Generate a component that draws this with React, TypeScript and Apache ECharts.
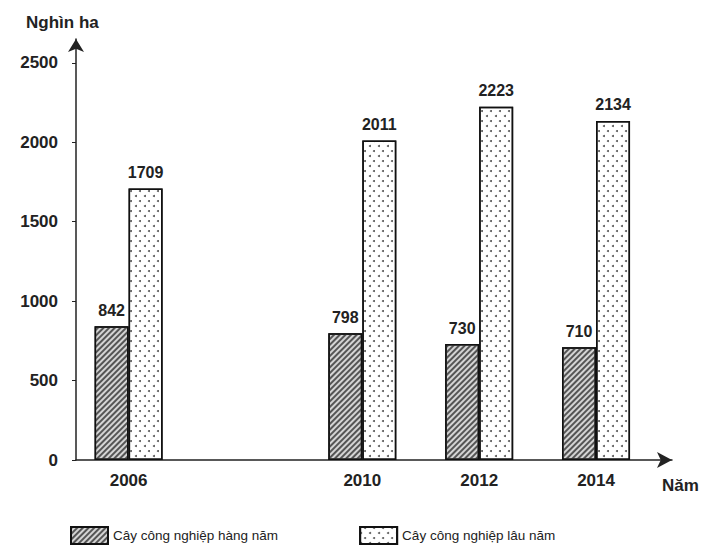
import React, { useEffect, useRef } from "react";
import * as echarts from "echarts";

const years = [2006, 2010, 2012, 2014];
const annualCrops = [842, 798, 730, 710];
const perennialCrops = [1709, 2011, 2223, 2134];
const yTicks = [0, 500, 1000, 1500, 2000, 2500];
const seriesNames = ["Cây công nghiệp hàng năm", "Cây công nghiệp lâu năm"];

const FONT = "'Liberation Sans', Arial, sans-serif";

export default function App() {
  const ref = useRef<HTMLDivElement>(null);
  useEffect(() => {
    if (!ref.current) return;
    const chart = echarts.init(ref.current, null, { renderer: "svg" });
    const labelStyle = {
      show: true,
      position: "top",
      distance: 8,
      fontSize: 16,
      fontWeight: "bold",
      fontFamily: FONT,
      color: "#222",
    };
    chart.setOption({
      animation: false,
      backgroundColor: "#fff",
      textStyle: { fontFamily: FONT },
      title: {
        text: "Nghìn ha",
        left: 21,
        top: 9,
        textStyle: { fontSize: 17, fontWeight: "bold", color: "#222", fontFamily: FONT },
      },
      grid: { left: 76, right: 33, top: 39, bottom: 94 },
      legend: {
        left: 65,
        top: 521,
        icon: "rect",
        itemWidth: 37,
        itemHeight: 17,
        itemGap: 81,
        textStyle: { fontSize: 13.5, color: "#222", fontFamily: FONT },
        data: seriesNames,
      },
      xAxis: {
        type: "value",
        min: 2005.1,
        max: 2015.3,
        splitLine: { show: false },
        axisTick: { show: false },
        axisLine: {
          show: true,
          symbol: ["none", "arrow"],
          symbolSize: [12, 15],
          lineStyle: { color: "#222", width: 1.5 },
        },
        axisLabel: {
          customValues: years,
          formatter: (v: number) => String(v),
          margin: 12,
          fontSize: 17,
          fontWeight: "bold",
          color: "#222",
          fontFamily: FONT,
        },
      },
      yAxis: {
        type: "value",
        min: 0,
        max: 2650,
        splitLine: { show: false },
        axisLine: {
          show: true,
          symbol: ["none", "arrow"],
          symbolSize: [12, 13],
          lineStyle: { color: "#222", width: 1.5 },
        },
        axisTick: {
          show: true,
          customValues: yTicks,
          length: 4,
          lineStyle: { color: "#222", width: 1 },
        },
        axisLabel: {
          customValues: yTicks,
          formatter: (v: number) => String(v),
          margin: 18,
          fontSize: 17,
          fontWeight: "bold",
          color: "#222",
          fontFamily: FONT,
        },
      },
      series: [
        {
          name: seriesNames[0],
          type: "bar",
          barWidth: 34,
          barGap: "0%",
          data: years.map((y, i) => [y, annualCrops[i]]),
          itemStyle: {
            color: "#d4d4d4",
            borderColor: "#111",
            borderWidth: 1.5,
            decal: {
              symbol: "rect",
              symbolSize: 1,
              color: "#555",
              dashArrayX: [1, 0],
              dashArrayY: [1.1, 1.9],
              rotation: -Math.PI / 4,
            },
          },
          label: labelStyle,
        },
        {
          name: seriesNames[1],
          type: "bar",
          barWidth: 34,
          barGap: "0%",
          data: years.map((y, i) => [y, perennialCrops[i]]),
          itemStyle: {
            color: "#ffffff",
            borderColor: "#111",
            borderWidth: 1.5,
            decal: {
              symbol: "circle",
              symbolSize: 1,
              color: "#555",
              dashArrayX: [
                [1.6, 6.4],
                [0, 4, 1.6, 2.4],
              ],
              dashArrayY: [1.6, 2.4],
            },
          },
          label: labelStyle,
        },
      ],
      graphic: [
        {
          type: "text",
          left: 662,
          top: 477,
          style: {
            text: "Năm",
            fontSize: 17,
            fontWeight: "bold",
            fill: "#222",
            fontFamily: FONT,
          },
        },
      ],
    });
    return () => chart.dispose();
  }, []);
  return (
    <div
      ref={ref}
      style={{ position: "absolute", left: 0, top: 0, width: 705, height: 554 }}
    />
  );
}
